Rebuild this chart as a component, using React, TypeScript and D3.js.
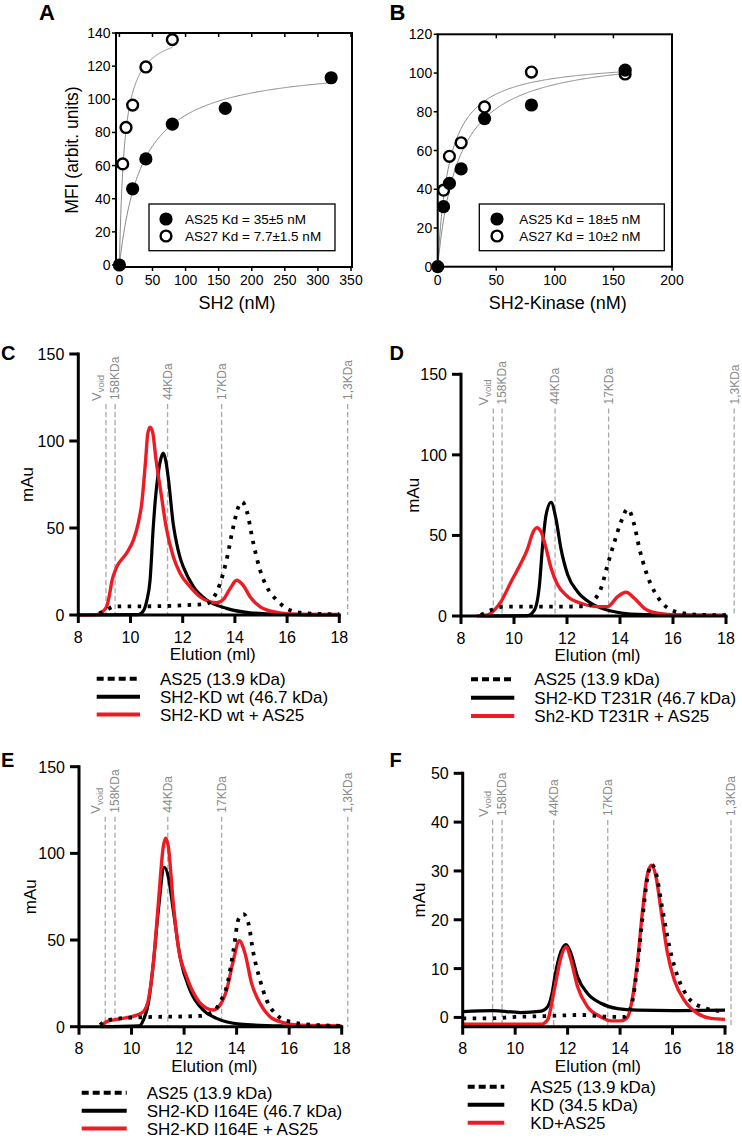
import React from 'react';
import * as d3 from 'd3';

type Pt = [number, number];

const FONT = "'Liberation Sans', Arial, Helvetica, sans-serif";
const RED = '#ed1c24';

// ---------- Panel A data (binding, SH2) ----------
const aConc25 = [0, 20, 40, 80, 160, 320];
const aMfi25 = [0, 46, 64, 85, 94.5, 113];
const aConc27 = [5, 10, 20, 40, 80];
const aMfi27 = [61, 83, 96.5, 119.5, 136];
const aFitKd = [35, 7.7];
const aFitBmax = [122, 144];
const aFitMax = [320, 80];
const aXTicks = [0, 50, 100, 150, 200, 250, 300, 350];
const aYTicks = [0, 20, 40, 60, 80, 100, 120, 140];
const aLegend = ['AS25 Kd = 35±5 nM', 'AS27 Kd = 7.7±1.5 nM'];

// ---------- Panel B data (binding, SH2-Kinase) ----------
const bConc25 = [0, 5, 10, 20, 40, 80, 160];
const bMfi25 = [0, 31, 43, 50.5, 76.5, 83.5, 101.5];
const bConc27 = [5, 10, 20, 40, 80, 160];
const bMfi27 = [39.5, 57, 64, 82.5, 100.5, 99.5];
const bFitKd = [18, 10];
const bFitBmax = [111, 107];
const bFitMax = [160, 160];
const bXTicks = [0, 50, 100, 150, 200];
const bYTicks = [0, 20, 40, 60, 80, 100, 120];
const bLegend = ['AS25 Kd = 18±5 nM', 'AS27 Kd = 10±2 nM'];

// ---------- SEC panels ----------
const secXTicks = [8, 10, 12, 14, 16, 18];
const secYTicks150 = [0, 50, 100, 150];
const secYTicks50 = [0, 10, 20, 30, 40, 50];
const markerNames = ['V', '158KDa', '44KDa', '17KDa', '1,3KDa'];

const cMarkerPos = [9.06, 9.41, 11.42, 13.49, 18.32];
const dMarkerPos = [9.22, 9.55, 11.55, 13.57, 18.31];
const eMarkerPos = [9.0, 9.37, 11.38, 13.43, 18.23];
const fMarkerPos = [9.14, 9.5, 11.47, 13.53, 18.23];

const cLegend = ['AS25 (13.9 kDa)', 'SH2-KD wt (46.7 kDa)', 'SH2-KD wt + AS25'];
const dLegend = ['AS25 (13.9 kDa)', 'SH2-KD T231R (46.7 kDa)', 'Sh2-KD T231R + AS25'];
const eLegend = ['AS25 (13.9 kDa)', 'SH2-KD I164E (46.7 kDa)', 'SH2-KD I164E + AS25'];
const fLegend = ['AS25 (13.9 kDa)', 'KD (34.5 kDa)', 'KD+AS25'];

// C: SH2-KD wt
const cAS25: Pt[] = [[8.8, 1], [9.1, 3], [9.34, 4.8], [9.8, 5], [10.5, 5], [11.5, 5.2], [12.3, 5.8], [12.92, 6.5], [13.17, 9.6], [13.43, 18], [13.68, 31.6], [13.94, 50.8], [14.13, 62], [14.28, 65], [14.45, 60], [14.71, 41], [14.96, 26], [15.22, 16.3], [15.6, 8.6], [15.98, 3.8], [16.5, 1.3], [17.2, 0.6], [18, 0.5]];
const cKD: Pt[] = [[8, 0], [10.3, 0.2], [10.5, 2.5], [10.62, 8], [10.75, 20], [10.87, 50], [10.95, 66], [11.05, 80], [11.15, 89], [11.26, 93], [11.36, 88], [11.45, 78.5], [11.64, 52], [11.77, 41], [11.9, 33], [12.02, 27.8], [12.41, 16.3], [12.92, 8.6], [13.68, 3.8], [14.58, 1.3], [15.86, 0.4], [18, 0]];
const cMix: Pt[] = [[8, 0], [8.7, 0.2], [8.9, 1.5], [9.09, 5], [9.2, 12], [9.28, 19], [9.47, 27.5], [9.85, 35.5], [10.11, 43], [10.3, 53], [10.43, 64], [10.58, 89], [10.66, 104], [10.75, 108], [10.85, 105], [10.98, 89], [11.17, 70], [11.36, 51], [11.64, 33.5], [11.9, 24], [12.28, 16.3], [12.66, 10.5], [13.05, 7.5], [13.3, 7], [13.56, 9], [13.81, 15], [14.07, 20], [14.32, 17], [14.58, 10.5], [14.96, 4.8], [15.47, 1.9], [16.1, 0.6], [18, 0.3]];

// D: SH2-KD T231R
const dAS25: Pt[] = [[8.75, 0.6], [9.13, 3.7], [9.64, 5.8], [11, 5.8], [12.78, 6], [13.03, 10], [13.28, 17], [13.53, 31.6], [13.79, 46], [14.04, 58.5], [14.29, 66.4], [14.54, 56.5], [14.73, 42], [14.98, 27.5], [15.3, 15.1], [15.67, 6.8], [16.18, 2.3], [17, 0.8], [18, 0.5]];
const dKD: Pt[] = [[8.8, 0], [10.5, 0.2], [10.77, 3.7], [10.96, 19.2], [11.08, 44], [11.21, 62.7], [11.4, 70.6], [11.58, 60.6], [11.77, 42], [12.03, 25.4], [12.4, 15.1], [12.91, 7.9], [13.66, 3.1], [14.67, 1], [18, 0.3]];
const dMix: Pt[] = [[8.6, 0], [9.0, 0.6], [9.26, 3.7], [9.51, 8.9], [9.89, 21.3], [10.26, 32.7], [10.52, 42], [10.7, 51.3], [10.86, 54.8], [11.02, 52.3], [11.21, 42], [11.4, 29.6], [11.65, 19.2], [12.03, 12], [12.53, 7.9], [13.16, 5.8], [13.53, 5.8], [13.91, 12], [14.23, 14.7], [14.54, 11], [14.92, 4.8], [15.42, 1.7], [16.18, 0.6], [18, 0.5]];

// E: SH2-KD I164E
const eAS25: Pt[] = [[8.8, 1], [9.05, 3.5], [9.56, 4.8], [10.32, 5.4], [12.6, 6.2], [13.11, 8.7], [13.4, 15], [13.62, 23], [13.88, 44], [14.07, 62], [14.26, 65], [14.45, 59.6], [14.64, 42.3], [14.89, 27], [15.14, 15.4], [15.53, 6.7], [16.03, 2.9], [17, 1], [18, 0.5]];
const eKD: Pt[] = [[8.8, 0], [10.3, 0.5], [10.45, 3.8], [10.64, 13.5], [10.83, 36.5], [11.02, 67], [11.25, 92], [11.4, 86.5], [11.59, 67], [11.85, 40], [12.23, 21], [12.73, 9.6], [13.24, 4.8], [14.13, 1.5], [15.78, 0.4], [18, 0]];
const eMix: Pt[] = [[8.86, 0], [9.05, 2.9], [9.43, 4.2], [9.81, 5.2], [10.2, 6.7], [10.45, 8.7], [10.64, 15.4], [10.83, 36.5], [11.02, 71], [11.21, 104], [11.3, 108.7], [11.4, 104], [11.59, 71], [11.78, 46], [12.1, 28.8], [12.48, 16.3], [12.86, 10.6], [13.11, 9.6], [13.37, 12.5], [13.62, 21.2], [13.88, 38.5], [14.1, 49.6], [14.32, 42.3], [14.57, 25], [14.89, 13.5], [15.27, 5.8], [15.78, 2.3], [16.41, 0.8], [18, 0.5]];

// F: KD
const fAS25: Pt[] = [[8, -0.2], [9, -0.2], [10, 0.1], [11.3, 0.3], [12.5, 0.5], [13.7, 0.1], [14.16, 0.1], [14.42, 2.2], [14.67, 11], [14.86, 20.6], [15.05, 28.8], [15.2, 31.4], [15.37, 29.5], [15.62, 22], [15.88, 14.5], [16.2, 8.3], [16.58, 4.2], [17.08, 2.2], [18, 1.2]];
const fKD: Pt[] = [[8, 1.2], [9.14, 1.4], [10.2, 1.0], [11, 1.3], [11.24, 2.2], [11.43, 5.6], [11.49, 7.6], [11.68, 12.4], [11.94, 14.9], [12.13, 13.1], [12.38, 8.3], [12.76, 4.9], [13.27, 2.9], [13.91, 1.8], [14.67, 1.5], [16, 1.4], [18, 1.5]];
const fMix: Pt[] = [[8, -1.4], [11, -1.4], [11.24, -0.5], [11.49, 5.6], [11.75, 12.4], [11.94, 14.5], [12.13, 11.7], [12.38, 6.3], [12.76, 2.2], [13.27, 0.1], [13.65, -0.7], [14.04, -0.7], [14.29, 0.1], [14.48, 4.2], [14.67, 11.7], [14.86, 22], [15.05, 29.5], [15.2, 31.2], [15.37, 28.8], [15.56, 22], [15.81, 13.1], [16.07, 7.6], [16.45, 3.5], [16.96, 0.8], [17.47, -0.2], [18, -0.4]];

// ---------- Binding panel ----------
function BindingPanel({ cfg }: any) {
  const x = d3.scaleLinear().domain(cfg.xDomain).range([cfg.left, cfg.right]);
  const y = d3.scaleLinear().domain(cfg.yDomain).range([cfg.bottom, cfg.top]);
  const line = d3.line<Pt>().x((d) => x(d[0])).y((d) => y(d[1]));
  const fits: Pt[][] = cfg.fitKd.map((kd: number, i: number) =>
    d3.range(0, cfg.fitMax[i] + 1e-6, cfg.fitMax[i] / 200).map((c) => [c, (cfg.fitBmax[i] * c) / (kd + c)] as Pt)
  );
  const lg = cfg.legend;
  return (
    <g fontFamily={FONT}>
      <text x={cfg.labelX} y={20} fontSize={22} fontWeight="bold">{cfg.label}</text>
      {fits.map((f, i) => (
        <path key={i} d={line(f) || ''} fill="none" stroke="#8a8a8a" strokeWidth={1} />
      ))}
      {cfg.x27.map((c: number, i: number) => (
        <circle key={'o' + i} cx={x(c)} cy={y(cfg.y27[i])} r={5.4} fill="#fff" stroke="#000" strokeWidth={2.4} />
      ))}
      {cfg.x25.map((c: number, i: number) => (
        <circle key={'f' + i} cx={x(c)} cy={y(cfg.y25[i])} r={6.6} fill="#000" />
      ))}
      <rect x={cfg.left} y={cfg.top} width={cfg.right - cfg.left} height={cfg.bottom - cfg.top} fill="none" stroke="#000" strokeWidth={2} />
      {cfg.xTicks.map((t: number) => (
        <g key={'x' + t}>
          <line x1={x(t)} x2={x(t)} y1={cfg.bottom} y2={cfg.bottom + 4} stroke="#000" strokeWidth={1.5} />
          <line x1={x(t)} x2={x(t)} y1={cfg.top} y2={cfg.top + 4} stroke="#000" strokeWidth={1.5} />
          <text x={x(t)} y={cfg.bottom + 18} fontSize={14} textAnchor="middle">{t}</text>
        </g>
      ))}
      {cfg.yTicks.map((t: number) => (
        <g key={'y' + t}>
          <line x1={cfg.left - 4} x2={cfg.left} y1={y(t)} y2={y(t)} stroke="#000" strokeWidth={1.5} />
          <text x={cfg.left - 5.5} y={y(t) + 5} fontSize={14} textAnchor="end">{t}</text>
        </g>
      ))}
      <text x={cfg.xTitleX} y={309} fontSize={18} textAnchor="middle">{cfg.xTitle}</text>
      {cfg.yTitle && (
        <text transform={`translate(${cfg.yTitleX + 6},${(cfg.top + cfg.bottom) / 2}) rotate(-90)`} fontSize={17.5} textAnchor="middle">
          {cfg.yTitle}
        </text>
      )}
      <rect x={lg.x} y={lg.y} width={lg.w} height={lg.h} fill="#fff" stroke="#000" strokeWidth={1.3} />
      <circle cx={lg.symX} cy={lg.rows[0]} r={6.6} fill="#000" />
      <circle cx={lg.symX} cy={lg.rows[1]} r={5.4} fill="#fff" stroke="#000" strokeWidth={2.4} />
      {cfg.legendText.map((s: string, i: number) => (
        <text key={s} x={lg.textX} y={lg.rows[i] + 5} fontSize={13.5}>{s}</text>
      ))}
    </g>
  );
}

// ---------- SEC panel ----------
function SecPanel({ cfg }: any) {
  const x = d3.scaleLinear().domain([8, 18]).range([cfg.x0, cfg.x1]);
  const y = d3.scaleLinear().domain(cfg.yDomain).range([cfg.yBottom, cfg.yTop]);
  const line = d3.line<Pt>().x((d) => x(d[0])).y((d) => y(d[1])).curve(d3.curveMonotoneX);
  const axisY = y(cfg.yDomain[0]);
  const topY = y(cfg.yTicks[cfg.yTicks.length - 1]);
  const lg = cfg.legend;
  const styles = [
    { stroke: '#000', dash: '3.5 6.5', w: 3.8, lw: 4, ldash: '7 4' },
    { stroke: '#000', dash: undefined, w: 3.2, lw: 4, ldash: undefined },
    { stroke: RED, dash: undefined, w: 3.4, lw: 4, ldash: undefined },
  ];
  const order = [1, 2, 0];
  return (
    <g fontFamily={FONT}>
      <text x={cfg.labelX} y={cfg.labelY} fontSize={20} fontWeight="bold">{cfg.label}</text>
      {cfg.markers.map((m: number, i: number) => {
        const lx = x(m);
        return (
          <g key={i}>
            <line x1={lx} x2={lx} y1={cfg.markerTop} y2={axisY} stroke="#a8a8a8" strokeWidth={1.3} strokeDasharray="5 3" />
            {i === 0 ? (
              <text transform={`translate(${lx - 5},${cfg.markerTop - 3}) rotate(-90)`} fontSize={13} fill="#8a8a8a">
                V<tspan fontSize={9.5} dy={3}>void</tspan>
              </text>
            ) : (
              <text transform={`translate(${lx + 4.3},${cfg.markerTop - 4}) rotate(-90)`} fontSize={12} fill="#8a8a8a">
                {markerNames[i]}
              </text>
            )}
          </g>
        );
      })}
      {order.map((k) => (
        <path key={k} d={line(cfg.series[k]) || ''} fill="none" stroke={styles[k].stroke} strokeWidth={styles[k].w}
          strokeDasharray={styles[k].dash} strokeLinejoin="round" />
      ))}
      <path d={`M${cfg.x0},${topY}L${cfg.x0},${axisY}L${cfg.x1},${axisY}`} fill="none" stroke="#000" strokeWidth={3} strokeLinecap="square" />
      {cfg.yTicks.map((t: number) => (
        <g key={'y' + t}>
          <line x1={cfg.x0 - 9} x2={cfg.x0} y1={y(t)} y2={y(t)} stroke="#000" strokeWidth={3} />
          <text x={cfg.x0 - 14} y={y(t) + 6} fontSize={16} textAnchor="end">{t}</text>
        </g>
      ))}
      {secXTicks.map((t) => (
        <g key={'x' + t}>
          <line x1={x(t)} x2={x(t)} y1={axisY} y2={axisY + 8} stroke="#000" strokeWidth={3} />
          <text x={x(t)} y={axisY + 27.5} fontSize={16} textAnchor="middle">{t}</text>
        </g>
      ))}
      <text x={(cfg.x0 + cfg.x1) / 2 + 4} y={axisY + 45} fontSize={17} textAnchor="middle">Elution (ml)</text>
      <text transform={`translate(${cfg.x0 - cfg.yTitleOff + 6},${(topY + axisY) / 2}) rotate(-90)`} fontSize={17} textAnchor="middle">mAu</text>
      {cfg.legendText.map((s: string, i: number) => (
        <g key={s}>
          <line x1={lg.x1} x2={lg.x2} y1={lg.rows[i]} y2={lg.rows[i]} stroke={styles[i].stroke} strokeWidth={styles[i].lw} strokeDasharray={styles[i].ldash} />
          <text x={lg.textX} y={lg.rows[i] + 6} fontSize={17}>{s}</text>
        </g>
      ))}
    </g>
  );
}

const panelA = {
  label: 'A', labelX: 39,
  left: 116, right: 352, top: 33, bottom: 267,
  xDomain: [-5.14, 351.5], yDomain: [-1.2, 140],
  x25: aConc25, y25: aMfi25, x27: aConc27, y27: aMfi27,
  fitKd: aFitKd, fitBmax: aFitBmax, fitMax: aFitMax,
  xTicks: aXTicks, yTicks: aYTicks,
  xTitle: 'SH2 (nM)', xTitleX: 237,
  yTitle: 'MFI (arbit. units)', yTitleX: 72,
  legend: { x: 149, y: 204, w: 186, h: 46.7, symX: 166, textX: 185, rows: [219, 236] },
  legendText: aLegend,
};

const panelB = {
  label: 'B', labelX: 389.5,
  left: 437.7, right: 672, top: 34.3, bottom: 266.7,
  xDomain: [0, 200], yDomain: [0, 120],
  x25: bConc25, y25: bMfi25, x27: bConc27, y27: bMfi27,
  fitKd: bFitKd, fitBmax: bFitBmax, fitMax: bFitMax,
  xTicks: bXTicks, yTicks: bYTicks,
  xTitle: 'SH2-Kinase (nM)', xTitleX: 557.7,
  yTitle: null, yTitleX: 0,
  legend: { x: 479.3, y: 204, w: 185, h: 46.7, symX: 497, textX: 519.3, rows: [219, 236] },
  legendText: bLegend,
};

const panelC = {
  label: 'C', labelX: 1, labelY: 360,
  x0: 78.3, x1: 339.3, yDomain: [0, 150], yBottom: 615, yTop: 354, yTicks: secYTicks150,
  markers: cMarkerPos, markerTop: 404,
  series: [cAS25, cKD, cMix], yTitleOff: 51,
  legend: { x1: 96.7, x2: 140, textX: 160, rows: [678.8, 696.8, 714.6] },
  legendText: cLegend,
};
const panelD = {
  label: 'D', labelX: 389.5, labelY: 360,
  x0: 461, x1: 726, yDomain: [0, 150], yBottom: 616, yTop: 374.3, yTicks: secYTicks150,
  markers: dMarkerPos, markerTop: 408.5,
  series: [dAS25, dKD, dMix], yTitleOff: 48.5,
  legend: { x1: 471, x2: 514.3, textX: 534.3, rows: [679.3, 697.7, 716] },
  legendText: dLegend,
};
const panelE = {
  label: 'E', labelX: 1, labelY: 767,
  x0: 79, x1: 341.7, yDomain: [0, 150], yBottom: 1026.7, yTop: 766.7, yTicks: secYTicks150,
  markers: eMarkerPos, markerTop: 816.7,
  series: [eAS25, eKD, eMix], yTitleOff: 49,
  legend: { x1: 81.7, x2: 126.7, textX: 146.7, rows: [1092.7, 1110.7, 1128.5] },
  legendText: eLegend,
};
const panelF = {
  label: 'F', labelX: 389.5, labelY: 767,
  x0: 462.7, x1: 725, yDomain: [-1.9, 50], yBottom: 1026.7, yTop: 773.3, yTicks: secYTicks50,
  markers: fMarkerPos, markerTop: 820,
  series: [fAS25, fKD, fMix], yTitleOff: 43.4,
  legend: { x1: 467.7, x2: 504.3, textX: 530.3, rows: [1086.7, 1104.8, 1122.8] },
  legendText: fLegend,
};

export default function App() {
  return (
    <svg width={742} height={1144} viewBox="0 0 742 1144" style={{ position: 'absolute', left: 0, top: 0, background: '#fff' }}>
      <rect x={0} y={0} width={742} height={1144} fill="#fff" />
      <BindingPanel cfg={panelA} />
      <BindingPanel cfg={panelB} />
      <SecPanel cfg={panelC} />
      <SecPanel cfg={panelD} />
      <SecPanel cfg={panelE} />
      <SecPanel cfg={panelF} />
    </svg>
  );
}
